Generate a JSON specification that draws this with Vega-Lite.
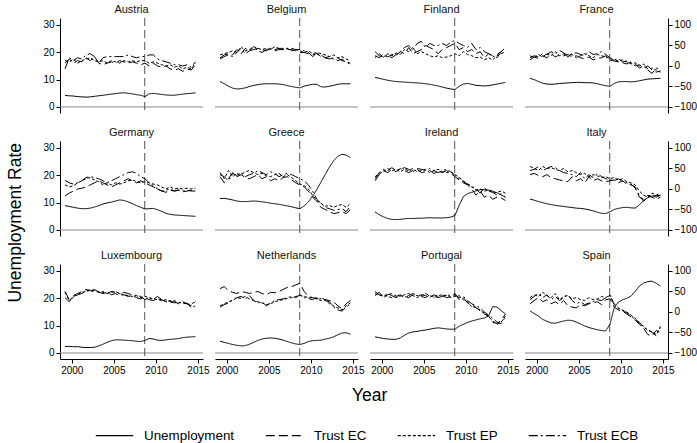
{
"$schema": "https://vega.github.io/schema/vega-lite/v6.json",
"padding": {"top": 3, "left": 7, "right": 3, "bottom": 1},
"background": "white",
"title": {"text": "Unemployment Rate", "orient": "left", "anchor": "middle", "fontSize": 17.5, "fontWeight": "normal", "font": "Liberation Sans", "color": "black", "offset": 18},
"data": {"values": [
{"c":"Austria","t":1999.2,"u":4.2,"ec":7,"ep":13,"ecb":-7},
{"c":"Austria","t":1999.7,"u":4.1,"ec":17,"ep":10,"ecb":20},
{"c":"Austria","t":2000.2,"u":4.0,"ec":7,"ep":17,"ecb":13},
{"c":"Austria","t":2000.7,"u":3.8,"ec":13,"ep":7,"ecb":20},
{"c":"Austria","t":2001.2,"u":3.7,"ec":10,"ep":13,"ecb":17},
{"c":"Austria","t":2001.7,"u":3.6,"ec":20,"ep":17,"ecb":27},
{"c":"Austria","t":2002.2,"u":3.7,"ec":13,"ep":20,"ecb":30},
{"c":"Austria","t":2002.7,"u":3.9,"ec":23,"ep":13,"ecb":23},
{"c":"Austria","t":2003.2,"u":4.1,"ec":7,"ep":10,"ecb":7},
{"c":"Austria","t":2003.7,"u":4.3,"ec":3,"ep":13,"ecb":20},
{"c":"Austria","t":2004.2,"u":4.5,"ec":7,"ep":7,"ecb":23},
{"c":"Austria","t":2004.7,"u":4.7,"ec":10,"ep":13,"ecb":23},
{"c":"Austria","t":2005.2,"u":4.9,"ec":7,"ep":10,"ecb":23},
{"c":"Austria","t":2005.7,"u":5.1,"ec":13,"ep":7,"ecb":23},
{"c":"Austria","t":2006.2,"u":5.2,"ec":10,"ep":13,"ecb":23},
{"c":"Austria","t":2006.7,"u":5.0,"ec":7,"ep":10,"ecb":27},
{"c":"Austria","t":2007.2,"u":4.8,"ec":10,"ep":13,"ecb":23},
{"c":"Austria","t":2007.7,"u":4.5,"ec":7,"ep":10,"ecb":20},
{"c":"Austria","t":2008.2,"u":4.3,"ec":3,"ep":13,"ecb":23},
{"c":"Austria","t":2008.7,"u":3.8,"ec":7,"ep":13,"ecb":23},
{"c":"Austria","t":2009.2,"u":4.8,"ec":0,"ep":7,"ecb":27},
{"c":"Austria","t":2009.7,"u":5.0,"ec":7,"ep":10,"ecb":27},
{"c":"Austria","t":2010.2,"u":4.8,"ec":0,"ep":7,"ecb":17},
{"c":"Austria","t":2010.7,"u":4.6,"ec":-3,"ep":3,"ecb":13},
{"c":"Austria","t":2011.2,"u":4.4,"ec":0,"ep":0,"ecb":10},
{"c":"Austria","t":2011.7,"u":4.3,"ec":-7,"ep":3,"ecb":7},
{"c":"Austria","t":2012.2,"u":4.3,"ec":-10,"ep":-3,"ecb":3},
{"c":"Austria","t":2012.7,"u":4.5,"ec":-7,"ep":0,"ecb":3},
{"c":"Austria","t":2013.2,"u":4.7,"ec":-13,"ep":-7,"ecb":0},
{"c":"Austria","t":2013.7,"u":4.9,"ec":-7,"ep":-3,"ecb":3},
{"c":"Austria","t":2014.2,"u":5.0,"ec":-10,"ep":-7,"ecb":-3},
{"c":"Austria","t":2014.7,"u":5.2,"ec":3,"ep":7,"ecb":10},
{"c":"Belgium","t":1999.2,"u":9.3,"ec":20,"ep":27,"ecb":17},
{"c":"Belgium","t":1999.7,"u":8.5,"ec":27,"ep":30,"ecb":23},
{"c":"Belgium","t":2000.2,"u":7.6,"ec":30,"ep":33,"ecb":27},
{"c":"Belgium","t":2000.7,"u":6.9,"ec":27,"ep":37,"ecb":23},
{"c":"Belgium","t":2001.2,"u":6.6,"ec":40,"ep":33,"ecb":33},
{"c":"Belgium","t":2001.7,"u":6.7,"ec":30,"ep":47,"ecb":43},
{"c":"Belgium","t":2002.2,"u":7.0,"ec":43,"ep":37,"ecb":30},
{"c":"Belgium","t":2002.7,"u":7.5,"ec":37,"ep":40,"ecb":37},
{"c":"Belgium","t":2003.2,"u":7.9,"ec":40,"ep":47,"ecb":47},
{"c":"Belgium","t":2003.7,"u":8.2,"ec":43,"ep":43,"ecb":37},
{"c":"Belgium","t":2004.2,"u":8.4,"ec":40,"ep":40,"ecb":33},
{"c":"Belgium","t":2004.7,"u":8.5,"ec":37,"ep":43,"ecb":40},
{"c":"Belgium","t":2005.2,"u":8.5,"ec":43,"ep":40,"ecb":43},
{"c":"Belgium","t":2005.7,"u":8.5,"ec":40,"ep":47,"ecb":37},
{"c":"Belgium","t":2006.2,"u":8.4,"ec":43,"ep":43,"ecb":40},
{"c":"Belgium","t":2006.7,"u":8.2,"ec":43,"ep":40,"ecb":40},
{"c":"Belgium","t":2007.2,"u":7.8,"ec":40,"ep":43,"ecb":43},
{"c":"Belgium","t":2007.7,"u":7.5,"ec":40,"ep":37,"ecb":43},
{"c":"Belgium","t":2008.2,"u":7.2,"ec":37,"ep":40,"ecb":40},
{"c":"Belgium","t":2008.7,"u":7.0,"ec":33,"ep":37,"ecb":40},
{"c":"Belgium","t":2009.2,"u":7.6,"ec":33,"ep":33,"ecb":37},
{"c":"Belgium","t":2009.7,"u":8.0,"ec":30,"ep":37,"ecb":33},
{"c":"Belgium","t":2010.2,"u":8.3,"ec":27,"ep":30,"ecb":23},
{"c":"Belgium","t":2010.7,"u":8.3,"ec":30,"ep":33,"ecb":30},
{"c":"Belgium","t":2011.2,"u":7.4,"ec":23,"ep":30,"ecb":27},
{"c":"Belgium","t":2011.7,"u":7.3,"ec":20,"ep":27,"ecb":20},
{"c":"Belgium","t":2012.2,"u":7.6,"ec":17,"ep":23,"ecb":23},
{"c":"Belgium","t":2012.7,"u":7.9,"ec":20,"ep":27,"ecb":17},
{"c":"Belgium","t":2013.2,"u":8.3,"ec":13,"ep":20,"ecb":20},
{"c":"Belgium","t":2013.7,"u":8.5,"ec":17,"ep":23,"ecb":13},
{"c":"Belgium","t":2014.2,"u":8.5,"ec":10,"ep":17,"ecb":10},
{"c":"Belgium","t":2014.7,"u":8.5,"ec":7,"ep":13,"ecb":3},
{"c":"Finland","t":1999.2,"u":10.8,"ec":25,"ep":20,"ecb":35},
{"c":"Finland","t":1999.7,"u":10.5,"ec":20,"ep":30,"ecb":25},
{"c":"Finland","t":2000.2,"u":10.1,"ec":30,"ep":22,"ecb":22},
{"c":"Finland","t":2000.7,"u":9.8,"ec":22,"ep":30,"ecb":25},
{"c":"Finland","t":2001.2,"u":9.5,"ec":28,"ep":25,"ecb":20},
{"c":"Finland","t":2001.7,"u":9.3,"ec":25,"ep":32,"ecb":28},
{"c":"Finland","t":2002.2,"u":9.2,"ec":35,"ep":28,"ecb":35},
{"c":"Finland","t":2002.7,"u":9.1,"ec":30,"ep":40,"ecb":45},
{"c":"Finland","t":2003.2,"u":9.0,"ec":45,"ep":35,"ecb":50},
{"c":"Finland","t":2003.7,"u":8.9,"ec":30,"ep":45,"ecb":40},
{"c":"Finland","t":2004.2,"u":8.8,"ec":35,"ep":30,"ecb":55},
{"c":"Finland","t":2004.7,"u":8.7,"ec":40,"ep":35,"ecb":60},
{"c":"Finland","t":2005.2,"u":8.5,"ec":50,"ep":30,"ecb":45},
{"c":"Finland","t":2005.7,"u":8.3,"ec":45,"ep":25,"ecb":55},
{"c":"Finland","t":2006.2,"u":8.0,"ec":40,"ep":22,"ecb":50},
{"c":"Finland","t":2006.7,"u":7.7,"ec":30,"ep":25,"ecb":50},
{"c":"Finland","t":2007.2,"u":7.3,"ec":40,"ep":20,"ecb":55},
{"c":"Finland","t":2007.7,"u":6.9,"ec":45,"ep":22,"ecb":50},
{"c":"Finland","t":2008.2,"u":6.6,"ec":50,"ep":25,"ecb":58},
{"c":"Finland","t":2008.7,"u":6.4,"ec":55,"ep":30,"ecb":62},
{"c":"Finland","t":2009.2,"u":7.6,"ec":40,"ep":25,"ecb":55},
{"c":"Finland","t":2009.7,"u":8.4,"ec":45,"ep":35,"ecb":50},
{"c":"Finland","t":2010.2,"u":8.6,"ec":35,"ep":28,"ecb":45},
{"c":"Finland","t":2010.7,"u":8.3,"ec":40,"ep":25,"ecb":55},
{"c":"Finland","t":2011.2,"u":7.9,"ec":30,"ep":20,"ecb":40},
{"c":"Finland","t":2011.7,"u":7.8,"ec":35,"ep":22,"ecb":45},
{"c":"Finland","t":2012.2,"u":7.7,"ec":20,"ep":15,"ecb":35},
{"c":"Finland","t":2012.7,"u":7.8,"ec":30,"ep":20,"ecb":30},
{"c":"Finland","t":2013.2,"u":8.1,"ec":25,"ep":15,"ecb":22},
{"c":"Finland","t":2013.7,"u":8.4,"ec":20,"ep":25,"ecb":28},
{"c":"Finland","t":2014.2,"u":8.7,"ec":35,"ep":30,"ecb":35},
{"c":"Finland","t":2014.7,"u":9.0,"ec":40,"ep":35,"ecb":45},
{"c":"France","t":1999.2,"u":10.5,"ec":15,"ep":25,"ecb":20},
{"c":"France","t":1999.7,"u":10.0,"ec":22,"ep":20,"ecb":25},
{"c":"France","t":2000.2,"u":9.3,"ec":18,"ep":28,"ecb":22},
{"c":"France","t":2000.7,"u":8.7,"ec":25,"ep":22,"ecb":30},
{"c":"France","t":2001.2,"u":8.4,"ec":20,"ep":30,"ecb":28},
{"c":"France","t":2001.7,"u":8.3,"ec":30,"ep":25,"ecb":35},
{"c":"France","t":2002.2,"u":8.4,"ec":22,"ep":35,"ecb":30},
{"c":"France","t":2002.7,"u":8.6,"ec":27,"ep":25,"ecb":38},
{"c":"France","t":2003.2,"u":8.7,"ec":25,"ep":30,"ecb":32},
{"c":"France","t":2003.7,"u":8.8,"ec":28,"ep":22,"ecb":25},
{"c":"France","t":2004.2,"u":8.9,"ec":22,"ep":28,"ecb":30},
{"c":"France","t":2004.7,"u":9.0,"ec":25,"ep":20,"ecb":32},
{"c":"France","t":2005.2,"u":9.0,"ec":20,"ep":25,"ecb":28},
{"c":"France","t":2005.7,"u":8.9,"ec":18,"ep":30,"ecb":25},
{"c":"France","t":2006.2,"u":8.9,"ec":22,"ep":25,"ecb":35},
{"c":"France","t":2006.7,"u":8.8,"ec":15,"ep":20,"ecb":28},
{"c":"France","t":2007.2,"u":8.5,"ec":18,"ep":28,"ecb":30},
{"c":"France","t":2007.7,"u":8.1,"ec":20,"ep":25,"ecb":35},
{"c":"France","t":2008.2,"u":7.8,"ec":25,"ep":22,"ecb":28},
{"c":"France","t":2008.7,"u":7.5,"ec":15,"ep":18,"ecb":20},
{"c":"France","t":2009.2,"u":8.6,"ec":12,"ep":15,"ecb":15},
{"c":"France","t":2009.7,"u":9.2,"ec":10,"ep":12,"ecb":18},
{"c":"France","t":2010.2,"u":9.3,"ec":8,"ep":15,"ecb":10},
{"c":"France","t":2010.7,"u":9.3,"ec":5,"ep":10,"ecb":12},
{"c":"France","t":2011.2,"u":9.2,"ec":10,"ep":5,"ecb":8},
{"c":"France","t":2011.7,"u":9.3,"ec":0,"ep":8,"ecb":5},
{"c":"France","t":2012.2,"u":9.6,"ec":3,"ep":0,"ecb":-5},
{"c":"France","t":2012.7,"u":9.9,"ec":-5,"ep":5,"ecb":0},
{"c":"France","t":2013.2,"u":10.2,"ec":0,"ep":-8,"ecb":-10},
{"c":"France","t":2013.7,"u":10.3,"ec":-10,"ep":-5,"ecb":-18},
{"c":"France","t":2014.2,"u":10.4,"ec":-15,"ep":-10,"ecb":-5},
{"c":"France","t":2014.7,"u":10.5,"ec":-12,"ep":-15,"ecb":-8},
{"c":"Germany","t":1999.2,"u":8.9,"ec":-17,"ep":10,"ecb":21},
{"c":"Germany","t":1999.7,"u":8.6,"ec":-10,"ep":5,"ecb":15},
{"c":"Germany","t":2000.2,"u":8.3,"ec":-5,"ep":8,"ecb":12},
{"c":"Germany","t":2000.7,"u":8.0,"ec":0,"ep":15,"ecb":15},
{"c":"Germany","t":2001.2,"u":7.8,"ec":2,"ep":20,"ecb":20},
{"c":"Germany","t":2001.7,"u":7.8,"ec":5,"ep":25,"ecb":28},
{"c":"Germany","t":2002.2,"u":8.0,"ec":10,"ep":28,"ecb":30},
{"c":"Germany","t":2002.7,"u":8.4,"ec":15,"ep":22,"ecb":28},
{"c":"Germany","t":2003.2,"u":8.9,"ec":20,"ep":18,"ecb":25},
{"c":"Germany","t":2003.7,"u":9.5,"ec":15,"ep":10,"ecb":20},
{"c":"Germany","t":2004.2,"u":9.9,"ec":10,"ep":15,"ecb":15},
{"c":"Germany","t":2004.7,"u":10.2,"ec":5,"ep":10,"ecb":20},
{"c":"Germany","t":2005.2,"u":10.6,"ec":10,"ep":15,"ecb":25},
{"c":"Germany","t":2005.7,"u":11.0,"ec":15,"ep":12,"ecb":30},
{"c":"Germany","t":2006.2,"u":10.8,"ec":20,"ep":15,"ecb":35},
{"c":"Germany","t":2006.7,"u":10.3,"ec":25,"ep":20,"ecb":40},
{"c":"Germany","t":2007.2,"u":9.6,"ec":20,"ep":22,"ecb":42},
{"c":"Germany","t":2007.7,"u":8.9,"ec":15,"ep":18,"ecb":38},
{"c":"Germany","t":2008.2,"u":8.3,"ec":20,"ep":15,"ecb":30},
{"c":"Germany","t":2008.7,"u":7.7,"ec":15,"ep":18,"ecb":25},
{"c":"Germany","t":2009.2,"u":7.8,"ec":10,"ep":15,"ecb":15},
{"c":"Germany","t":2009.7,"u":7.9,"ec":5,"ep":12,"ecb":8},
{"c":"Germany","t":2010.2,"u":7.4,"ec":0,"ep":10,"ecb":0},
{"c":"Germany","t":2010.7,"u":6.8,"ec":-5,"ep":5,"ecb":-5},
{"c":"Germany","t":2011.2,"u":6.1,"ec":-8,"ep":0,"ecb":-3},
{"c":"Germany","t":2011.7,"u":5.7,"ec":-3,"ep":5,"ecb":0},
{"c":"Germany","t":2012.2,"u":5.5,"ec":-5,"ep":0,"ecb":-5},
{"c":"Germany","t":2012.7,"u":5.4,"ec":-3,"ep":2,"ecb":-2},
{"c":"Germany","t":2013.2,"u":5.3,"ec":-7,"ep":0,"ecb":-5},
{"c":"Germany","t":2013.7,"u":5.2,"ec":-5,"ep":2,"ecb":-3},
{"c":"Germany","t":2014.2,"u":5.1,"ec":-3,"ep":0,"ecb":-5},
{"c":"Germany","t":2014.7,"u":5.0,"ec":-8,"ep":2,"ecb":-5},
{"c":"Greece","t":1999.2,"u":11.5,"ec":30,"ep":40,"ecb":35},
{"c":"Greece","t":1999.7,"u":11.6,"ec":15,"ep":25,"ecb":30},
{"c":"Greece","t":2000.2,"u":11.3,"ec":25,"ep":45,"ecb":20},
{"c":"Greece","t":2000.7,"u":11.0,"ec":40,"ep":30,"ecb":38},
{"c":"Greece","t":2001.2,"u":10.6,"ec":30,"ep":38,"ecb":33},
{"c":"Greece","t":2001.7,"u":10.4,"ec":35,"ep":35,"ecb":40},
{"c":"Greece","t":2002.2,"u":10.4,"ec":28,"ep":42,"ecb":30},
{"c":"Greece","t":2002.7,"u":10.5,"ec":25,"ep":45,"ecb":35},
{"c":"Greece","t":2003.2,"u":10.6,"ec":30,"ep":40,"ecb":38},
{"c":"Greece","t":2003.7,"u":10.5,"ec":35,"ep":35,"ecb":45},
{"c":"Greece","t":2004.2,"u":10.3,"ec":25,"ep":38,"ecb":40},
{"c":"Greece","t":2004.7,"u":10.1,"ec":30,"ep":32,"ecb":35},
{"c":"Greece","t":2005.2,"u":9.8,"ec":20,"ep":30,"ecb":42},
{"c":"Greece","t":2005.7,"u":9.6,"ec":25,"ep":35,"ecb":38},
{"c":"Greece","t":2006.2,"u":9.4,"ec":20,"ep":38,"ecb":30},
{"c":"Greece","t":2006.7,"u":9.1,"ec":28,"ep":30,"ecb":35},
{"c":"Greece","t":2007.2,"u":8.8,"ec":30,"ep":35,"ecb":38},
{"c":"Greece","t":2007.7,"u":8.5,"ec":22,"ep":28,"ecb":35},
{"c":"Greece","t":2008.2,"u":8.1,"ec":15,"ep":20,"ecb":30},
{"c":"Greece","t":2008.7,"u":7.8,"ec":10,"ep":12,"ecb":25},
{"c":"Greece","t":2009.2,"u":8.8,"ec":5,"ep":8,"ecb":20},
{"c":"Greece","t":2009.7,"u":10.3,"ec":-5,"ep":0,"ecb":10},
{"c":"Greece","t":2010.2,"u":12.3,"ec":-20,"ep":-15,"ecb":-5},
{"c":"Greece","t":2010.7,"u":14.8,"ec":-30,"ep":-28,"ecb":-25},
{"c":"Greece","t":2011.2,"u":17.5,"ec":-45,"ep":-35,"ecb":-35},
{"c":"Greece","t":2011.7,"u":20.3,"ec":-50,"ep":-42,"ecb":-45},
{"c":"Greece","t":2012.2,"u":23.0,"ec":-55,"ep":-40,"ecb":-48},
{"c":"Greece","t":2012.7,"u":25.3,"ec":-60,"ep":-45,"ecb":-52},
{"c":"Greece","t":2013.2,"u":27.0,"ec":-58,"ep":-40,"ecb":-50},
{"c":"Greece","t":2013.7,"u":27.7,"ec":-55,"ep":-38,"ecb":-48},
{"c":"Greece","t":2014.2,"u":27.4,"ec":-60,"ep":-45,"ecb":-55},
{"c":"Greece","t":2014.7,"u":26.5,"ec":-50,"ep":-35,"ecb":-42},
{"c":"Ireland","t":1999.2,"u":6.6,"ec":20,"ep":30,"ecb":25},
{"c":"Ireland","t":1999.7,"u":5.6,"ec":35,"ep":38,"ecb":40},
{"c":"Ireland","t":2000.2,"u":4.8,"ec":45,"ep":42,"ecb":48},
{"c":"Ireland","t":2000.7,"u":4.2,"ec":40,"ep":50,"ecb":45},
{"c":"Ireland","t":2001.2,"u":3.9,"ec":48,"ep":45,"ecb":52},
{"c":"Ireland","t":2001.7,"u":3.8,"ec":42,"ep":48,"ecb":45},
{"c":"Ireland","t":2002.2,"u":3.9,"ec":50,"ep":42,"ecb":48},
{"c":"Ireland","t":2002.7,"u":4.1,"ec":45,"ep":48,"ecb":52},
{"c":"Ireland","t":2003.2,"u":4.2,"ec":40,"ep":45,"ecb":48},
{"c":"Ireland","t":2003.7,"u":4.2,"ec":45,"ep":50,"ecb":42},
{"c":"Ireland","t":2004.2,"u":4.3,"ec":48,"ep":42,"ecb":50},
{"c":"Ireland","t":2004.7,"u":4.3,"ec":40,"ep":45,"ecb":48},
{"c":"Ireland","t":2005.2,"u":4.4,"ec":42,"ep":48,"ecb":45},
{"c":"Ireland","t":2005.7,"u":4.5,"ec":45,"ep":40,"ecb":50},
{"c":"Ireland","t":2006.2,"u":4.4,"ec":38,"ep":45,"ecb":45},
{"c":"Ireland","t":2006.7,"u":4.4,"ec":42,"ep":48,"ecb":40},
{"c":"Ireland","t":2007.2,"u":4.4,"ec":40,"ep":42,"ecb":45},
{"c":"Ireland","t":2007.7,"u":4.5,"ec":45,"ep":40,"ecb":48},
{"c":"Ireland","t":2008.2,"u":4.7,"ec":38,"ep":42,"ecb":42},
{"c":"Ireland","t":2008.7,"u":5.3,"ec":30,"ep":35,"ecb":33},
{"c":"Ireland","t":2009.2,"u":9.0,"ec":22,"ep":28,"ecb":25},
{"c":"Ireland","t":2009.7,"u":12.2,"ec":15,"ep":20,"ecb":18},
{"c":"Ireland","t":2010.2,"u":13.3,"ec":10,"ep":12,"ecb":12},
{"c":"Ireland","t":2010.7,"u":13.8,"ec":0,"ep":5,"ecb":8},
{"c":"Ireland","t":2011.2,"u":14.3,"ec":-15,"ep":-2,"ecb":0},
{"c":"Ireland","t":2011.7,"u":14.7,"ec":-5,"ep":0,"ecb":-10},
{"c":"Ireland","t":2012.2,"u":14.8,"ec":-20,"ep":-5,"ecb":2},
{"c":"Ireland","t":2012.7,"u":14.6,"ec":-15,"ep":-3,"ecb":-5},
{"c":"Ireland","t":2013.2,"u":14.2,"ec":-25,"ep":-10,"ecb":-8},
{"c":"Ireland","t":2013.7,"u":13.6,"ec":-20,"ep":-8,"ecb":-15},
{"c":"Ireland","t":2014.2,"u":12.8,"ec":-22,"ep":-5,"ecb":-12},
{"c":"Ireland","t":2014.7,"u":12.0,"ec":-28,"ep":-10,"ecb":-20},
{"c":"Italy","t":1999.2,"u":11.3,"ec":35,"ep":55,"ecb":45},
{"c":"Italy","t":1999.7,"u":10.9,"ec":38,"ep":50,"ecb":48},
{"c":"Italy","t":2000.2,"u":10.4,"ec":33,"ep":45,"ecb":55},
{"c":"Italy","t":2000.7,"u":10.0,"ec":30,"ep":55,"ecb":45},
{"c":"Italy","t":2001.2,"u":9.6,"ec":35,"ep":50,"ecb":50},
{"c":"Italy","t":2001.7,"u":9.3,"ec":28,"ep":52,"ecb":55},
{"c":"Italy","t":2002.2,"u":9.0,"ec":25,"ep":48,"ecb":52},
{"c":"Italy","t":2002.7,"u":8.8,"ec":22,"ep":45,"ecb":45},
{"c":"Italy","t":2003.2,"u":8.6,"ec":20,"ep":50,"ecb":40},
{"c":"Italy","t":2003.7,"u":8.4,"ec":18,"ep":42,"ecb":38},
{"c":"Italy","t":2004.2,"u":8.2,"ec":30,"ep":45,"ecb":35},
{"c":"Italy","t":2004.7,"u":8.0,"ec":20,"ep":40,"ecb":30},
{"c":"Italy","t":2005.2,"u":7.9,"ec":25,"ep":35,"ecb":40},
{"c":"Italy","t":2005.7,"u":7.7,"ec":15,"ep":38,"ecb":25},
{"c":"Italy","t":2006.2,"u":7.4,"ec":30,"ep":30,"ecb":35},
{"c":"Italy","t":2006.7,"u":7.0,"ec":20,"ep":35,"ecb":28},
{"c":"Italy","t":2007.2,"u":6.5,"ec":25,"ep":32,"ecb":38},
{"c":"Italy","t":2007.7,"u":6.1,"ec":20,"ep":28,"ecb":30},
{"c":"Italy","t":2008.2,"u":6.0,"ec":18,"ep":30,"ecb":25},
{"c":"Italy","t":2008.7,"u":6.7,"ec":20,"ep":25,"ecb":22},
{"c":"Italy","t":2009.2,"u":7.5,"ec":22,"ep":28,"ecb":20},
{"c":"Italy","t":2009.7,"u":7.9,"ec":15,"ep":22,"ecb":25},
{"c":"Italy","t":2010.2,"u":8.2,"ec":20,"ep":25,"ecb":18},
{"c":"Italy","t":2010.7,"u":8.3,"ec":12,"ep":18,"ecb":15},
{"c":"Italy","t":2011.2,"u":8.1,"ec":10,"ep":15,"ecb":12},
{"c":"Italy","t":2011.7,"u":8.0,"ec":5,"ep":10,"ecb":2},
{"c":"Italy","t":2012.2,"u":9.2,"ec":-20,"ep":-5,"ecb":-15},
{"c":"Italy","t":2012.7,"u":10.8,"ec":-25,"ep":-15,"ecb":-30},
{"c":"Italy","t":2013.2,"u":11.8,"ec":-15,"ep":-20,"ecb":-20},
{"c":"Italy","t":2013.7,"u":12.4,"ec":-20,"ep":-10,"ecb":-15},
{"c":"Italy","t":2014.2,"u":12.6,"ec":-25,"ep":-15,"ecb":-20},
{"c":"Italy","t":2014.7,"u":12.7,"ec":-20,"ep":-10,"ecb":-15},
{"c":"Luxembourg","t":1999.2,"u":2.4,"ec":35,"ep":48,"ecb":50},
{"c":"Luxembourg","t":1999.7,"u":2.4,"ec":25,"ep":28,"ecb":30},
{"c":"Luxembourg","t":2000.2,"u":2.3,"ec":40,"ep":38,"ecb":35},
{"c":"Luxembourg","t":2000.7,"u":2.3,"ec":45,"ep":42,"ecb":42},
{"c":"Luxembourg","t":2001.2,"u":2.1,"ec":50,"ep":48,"ecb":45},
{"c":"Luxembourg","t":2001.7,"u":2.0,"ec":55,"ep":50,"ecb":52},
{"c":"Luxembourg","t":2002.2,"u":2.0,"ec":52,"ep":55,"ecb":50},
{"c":"Luxembourg","t":2002.7,"u":2.1,"ec":50,"ep":52,"ecb":55},
{"c":"Luxembourg","t":2003.2,"u":2.6,"ec":48,"ep":50,"ecb":48},
{"c":"Luxembourg","t":2003.7,"u":3.2,"ec":45,"ep":48,"ecb":50},
{"c":"Luxembourg","t":2004.2,"u":3.9,"ec":48,"ep":45,"ecb":45},
{"c":"Luxembourg","t":2004.7,"u":4.5,"ec":42,"ep":48,"ecb":50},
{"c":"Luxembourg","t":2005.2,"u":4.8,"ec":45,"ep":50,"ecb":48},
{"c":"Luxembourg","t":2005.7,"u":4.8,"ec":40,"ep":45,"ecb":45},
{"c":"Luxembourg","t":2006.2,"u":4.7,"ec":42,"ep":42,"ecb":48},
{"c":"Luxembourg","t":2006.7,"u":4.6,"ec":38,"ep":40,"ecb":45},
{"c":"Luxembourg","t":2007.2,"u":4.5,"ec":40,"ep":38,"ecb":42},
{"c":"Luxembourg","t":2007.7,"u":4.3,"ec":35,"ep":40,"ecb":40},
{"c":"Luxembourg","t":2008.2,"u":4.2,"ec":32,"ep":35,"ecb":38},
{"c":"Luxembourg","t":2008.7,"u":4.6,"ec":35,"ep":38,"ecb":30},
{"c":"Luxembourg","t":2009.2,"u":5.3,"ec":30,"ep":35,"ecb":35},
{"c":"Luxembourg","t":2009.7,"u":5.1,"ec":28,"ep":32,"ecb":30},
{"c":"Luxembourg","t":2010.2,"u":4.7,"ec":32,"ep":30,"ecb":38},
{"c":"Luxembourg","t":2010.7,"u":4.6,"ec":30,"ep":28,"ecb":30},
{"c":"Luxembourg","t":2011.2,"u":4.8,"ec":25,"ep":30,"ecb":25},
{"c":"Luxembourg","t":2011.7,"u":5.0,"ec":22,"ep":25,"ecb":28},
{"c":"Luxembourg","t":2012.2,"u":5.1,"ec":25,"ep":28,"ecb":22},
{"c":"Luxembourg","t":2012.7,"u":5.3,"ec":20,"ep":22,"ecb":25},
{"c":"Luxembourg","t":2013.2,"u":5.6,"ec":22,"ep":25,"ecb":20},
{"c":"Luxembourg","t":2013.7,"u":5.8,"ec":20,"ep":20,"ecb":22},
{"c":"Luxembourg","t":2014.2,"u":5.9,"ec":15,"ep":18,"ecb":10},
{"c":"Luxembourg","t":2014.7,"u":6.0,"ec":25,"ep":28,"ecb":15},
{"c":"Netherlands","t":1999.2,"u":4.3,"ec":57,"ep":15,"ecb":12},
{"c":"Netherlands","t":1999.7,"u":3.9,"ec":62,"ep":20,"ecb":18},
{"c":"Netherlands","t":2000.2,"u":3.5,"ec":52,"ep":25,"ecb":22},
{"c":"Netherlands","t":2000.7,"u":3.1,"ec":48,"ep":28,"ecb":30},
{"c":"Netherlands","t":2001.2,"u":2.8,"ec":45,"ep":35,"ecb":35},
{"c":"Netherlands","t":2001.7,"u":2.6,"ec":50,"ep":33,"ecb":38},
{"c":"Netherlands","t":2002.2,"u":2.7,"ec":48,"ep":38,"ecb":32},
{"c":"Netherlands","t":2002.7,"u":3.2,"ec":45,"ep":32,"ecb":40},
{"c":"Netherlands","t":2003.2,"u":3.9,"ec":48,"ep":28,"ecb":28},
{"c":"Netherlands","t":2003.7,"u":4.6,"ec":50,"ep":25,"ecb":22},
{"c":"Netherlands","t":2004.2,"u":5.1,"ec":45,"ep":22,"ecb":25},
{"c":"Netherlands","t":2004.7,"u":5.4,"ec":42,"ep":18,"ecb":15},
{"c":"Netherlands","t":2005.2,"u":5.5,"ec":48,"ep":20,"ecb":22},
{"c":"Netherlands","t":2005.7,"u":5.4,"ec":47,"ep":25,"ecb":28},
{"c":"Netherlands","t":2006.2,"u":5.1,"ec":50,"ep":28,"ecb":30},
{"c":"Netherlands","t":2006.7,"u":4.7,"ec":55,"ep":30,"ecb":32},
{"c":"Netherlands","t":2007.2,"u":4.2,"ec":60,"ep":33,"ecb":35},
{"c":"Netherlands","t":2007.7,"u":3.7,"ec":62,"ep":35,"ecb":38},
{"c":"Netherlands","t":2008.2,"u":3.3,"ec":66,"ep":38,"ecb":35},
{"c":"Netherlands","t":2008.7,"u":3.1,"ec":70,"ep":40,"ecb":42},
{"c":"Netherlands","t":2009.2,"u":3.5,"ec":50,"ep":38,"ecb":35},
{"c":"Netherlands","t":2009.7,"u":4.2,"ec":38,"ep":35,"ecb":33},
{"c":"Netherlands","t":2010.2,"u":4.5,"ec":35,"ep":35,"ecb":30},
{"c":"Netherlands","t":2010.7,"u":4.6,"ec":32,"ep":32,"ecb":36},
{"c":"Netherlands","t":2011.2,"u":4.7,"ec":35,"ep":28,"ecb":32},
{"c":"Netherlands","t":2011.7,"u":5.1,"ec":30,"ep":30,"ecb":28},
{"c":"Netherlands","t":2012.2,"u":5.4,"ec":28,"ep":20,"ecb":25},
{"c":"Netherlands","t":2012.7,"u":5.9,"ec":25,"ep":15,"ecb":12},
{"c":"Netherlands","t":2013.2,"u":6.7,"ec":15,"ep":10,"ecb":5},
{"c":"Netherlands","t":2013.7,"u":7.3,"ec":8,"ep":5,"ecb":2},
{"c":"Netherlands","t":2014.2,"u":7.4,"ec":20,"ep":15,"ecb":12},
{"c":"Netherlands","t":2014.7,"u":6.9,"ec":28,"ep":22,"ecb":20},
{"c":"Portugal","t":1999.2,"u":5.9,"ec":40,"ep":45,"ecb":50},
{"c":"Portugal","t":1999.7,"u":5.6,"ec":48,"ep":40,"ecb":42},
{"c":"Portugal","t":2000.2,"u":5.3,"ec":35,"ep":42,"ecb":38},
{"c":"Portugal","t":2000.7,"u":5.1,"ec":42,"ep":38,"ecb":45},
{"c":"Portugal","t":2001.2,"u":5.0,"ec":45,"ep":35,"ecb":40},
{"c":"Portugal","t":2001.7,"u":5.0,"ec":38,"ep":42,"ecb":35},
{"c":"Portugal","t":2002.2,"u":5.5,"ec":42,"ep":38,"ecb":40},
{"c":"Portugal","t":2002.7,"u":6.5,"ec":35,"ep":42,"ecb":38},
{"c":"Portugal","t":2003.2,"u":7.3,"ec":40,"ep":45,"ecb":35},
{"c":"Portugal","t":2003.7,"u":7.7,"ec":45,"ep":40,"ecb":42},
{"c":"Portugal","t":2004.2,"u":7.9,"ec":38,"ep":35,"ecb":40},
{"c":"Portugal","t":2004.7,"u":8.2,"ec":42,"ep":40,"ecb":38},
{"c":"Portugal","t":2005.2,"u":8.4,"ec":40,"ep":45,"ecb":35},
{"c":"Portugal","t":2005.7,"u":8.7,"ec":35,"ep":40,"ecb":42},
{"c":"Portugal","t":2006.2,"u":9.0,"ec":42,"ep":35,"ecb":38},
{"c":"Portugal","t":2006.7,"u":9.2,"ec":38,"ep":40,"ecb":35},
{"c":"Portugal","t":2007.2,"u":9.0,"ec":40,"ep":42,"ecb":38},
{"c":"Portugal","t":2007.7,"u":8.8,"ec":35,"ep":40,"ecb":42},
{"c":"Portugal","t":2008.2,"u":8.7,"ec":38,"ep":35,"ecb":40},
{"c":"Portugal","t":2008.7,"u":8.7,"ec":45,"ep":38,"ecb":42},
{"c":"Portugal","t":2009.2,"u":9.8,"ec":30,"ep":40,"ecb":35},
{"c":"Portugal","t":2009.7,"u":10.5,"ec":35,"ep":30,"ecb":38},
{"c":"Portugal","t":2010.2,"u":11.2,"ec":22,"ep":25,"ecb":28},
{"c":"Portugal","t":2010.7,"u":11.7,"ec":18,"ep":12,"ecb":20},
{"c":"Portugal","t":2011.2,"u":12.1,"ec":10,"ep":12,"ecb":15},
{"c":"Portugal","t":2011.7,"u":12.5,"ec":5,"ep":2,"ecb":10},
{"c":"Portugal","t":2012.2,"u":12.8,"ec":-5,"ep":-2,"ecb":0},
{"c":"Portugal","t":2012.7,"u":13.6,"ec":-10,"ep":-12,"ecb":-8},
{"c":"Portugal","t":2013.2,"u":17.0,"ec":-25,"ep":-22,"ecb":-15},
{"c":"Portugal","t":2013.7,"u":16.8,"ec":-28,"ep":-30,"ecb":-25},
{"c":"Portugal","t":2014.2,"u":15.5,"ec":-20,"ep":-25,"ecb":-28},
{"c":"Portugal","t":2014.7,"u":14.3,"ec":-5,"ep":-10,"ecb":-12},
{"c":"Spain","t":1999.2,"u":15.4,"ec":20,"ep":35,"ecb":30},
{"c":"Spain","t":1999.7,"u":14.4,"ec":28,"ep":42,"ecb":38},
{"c":"Spain","t":2000.2,"u":13.5,"ec":35,"ep":38,"ecb":45},
{"c":"Spain","t":2000.7,"u":12.3,"ec":25,"ep":48,"ecb":35},
{"c":"Spain","t":2001.2,"u":11.6,"ec":30,"ep":40,"ecb":42},
{"c":"Spain","t":2001.7,"u":11.0,"ec":20,"ep":35,"ecb":30},
{"c":"Spain","t":2002.2,"u":10.9,"ec":25,"ep":45,"ecb":38},
{"c":"Spain","t":2002.7,"u":11.3,"ec":18,"ep":30,"ecb":28},
{"c":"Spain","t":2003.2,"u":11.7,"ec":28,"ep":38,"ecb":35},
{"c":"Spain","t":2003.7,"u":12.0,"ec":15,"ep":40,"ecb":42},
{"c":"Spain","t":2004.2,"u":11.9,"ec":12,"ep":32,"ecb":28},
{"c":"Spain","t":2004.7,"u":11.3,"ec":10,"ep":35,"ecb":20},
{"c":"Spain","t":2005.2,"u":10.6,"ec":18,"ep":30,"ecb":25},
{"c":"Spain","t":2005.7,"u":9.9,"ec":15,"ep":28,"ecb":18},
{"c":"Spain","t":2006.2,"u":9.3,"ec":20,"ep":35,"ecb":22},
{"c":"Spain","t":2006.7,"u":8.9,"ec":22,"ep":30,"ecb":25},
{"c":"Spain","t":2007.2,"u":8.5,"ec":25,"ep":32,"ecb":30},
{"c":"Spain","t":2007.7,"u":8.2,"ec":18,"ep":38,"ecb":28},
{"c":"Spain","t":2008.2,"u":8.1,"ec":30,"ep":35,"ecb":35},
{"c":"Spain","t":2008.7,"u":10.5,"ec":32,"ep":42,"ecb":40},
{"c":"Spain","t":2009.2,"u":16.5,"ec":12,"ep":20,"ecb":18},
{"c":"Spain","t":2009.7,"u":18.6,"ec":5,"ep":10,"ecb":8},
{"c":"Spain","t":2010.2,"u":19.5,"ec":2,"ep":5,"ecb":3},
{"c":"Spain","t":2010.7,"u":20.0,"ec":-5,"ep":0,"ecb":-2},
{"c":"Spain","t":2011.2,"u":20.8,"ec":-12,"ep":-8,"ecb":-10},
{"c":"Spain","t":2011.7,"u":22.5,"ec":-20,"ep":-15,"ecb":-18},
{"c":"Spain","t":2012.2,"u":24.5,"ec":-30,"ep":-28,"ecb":-25},
{"c":"Spain","t":2012.7,"u":25.6,"ec":-40,"ep":-35,"ecb":-38},
{"c":"Spain","t":2013.2,"u":26.1,"ec":-55,"ep":-45,"ecb":-42},
{"c":"Spain","t":2013.7,"u":26.3,"ec":-58,"ep":-48,"ecb":-50},
{"c":"Spain","t":2014.2,"u":25.5,"ec":-45,"ep":-55,"ecb":-58},
{"c":"Spain","t":2014.7,"u":24.5,"ec":-50,"ep":-38,"ecb":-35}
]},
"spacing": 12,
"vconcat": [
{"spacing": 12, "bounds": "flush", "hconcat": [
{"width":143,"height":95,"title":"Austria","transform":[{"filter":"datum.c == 'Austria'"}],"layer":[{"layer":[
 {"transform":[{"filter":"datum.t == 1999.2"}],"mark":{"type":"rule","color":"#8a8a8a","strokeWidth":1.2},"encoding":{"y":{"datum":0,"type":"quantitative","title":null,"scale":{"domain":[-2.2,32.56],"nice":false,"zero":false},"axis":{"orient":"left","values":[0,10,20,30],"format":"d"}}}},
 {"transform":[{"filter":"datum.t == 1999.2"}],"mark":{"type":"rule","color":"#555","strokeWidth":1,"strokeDash":[8,4]},"encoding":{"x":{"datum":2008.67,"type":"quantitative","title":null,"scale":{"domain":[1998.6,2015.6],"nice":false,"zero":false},"axis":null}}},
 {"transform":[{"fold":["u"],"as":["key","value"]}],"mark":{"type":"line","color":"black","strokeWidth":1},"encoding":{"x":{"field":"t","type":"quantitative","title":null,"scale":{"domain":[1998.6,2015.6],"nice":false,"zero":false},"axis":null},"y":{"field":"value","type":"quantitative","title":null,"scale":{"domain":[-2.2,32.56],"nice":false,"zero":false},"axis":{"orient":"left","values":[0,10,20,30],"format":"d"}},"strokeDash":{"field":"key","type":"nominal","scale":{"domain":["u","ec","ep","ecb"],"range":[[1,0],[9,4],[3,2],[9,3,2,3]]},"legend":{"labelExpr":"datum.label == 'u' ? 'Unemployment' : datum.label == 'ec' ? 'Trust EC' : datum.label == 'ep' ? 'Trust EP' : 'Trust ECB'"}}}}]},
 {"transform":[{"fold":["ec","ep","ecb"],"as":["key","value"]}],"mark":{"type":"line","color":"black","strokeWidth":1},"encoding":{"x":{"field":"t","type":"quantitative","title":null,"scale":{"domain":[1998.6,2015.6],"nice":false,"zero":false},"axis":null},"y":{"field":"value","type":"quantitative","title":null,"scale":{"domain":[-114.67,117.07],"nice":false,"zero":false},"axis":null},"strokeDash":{"field":"key","type":"nominal"}}}
],"resolve":{"scale":{"y":"independent"}}},
{"width":143,"height":95,"title":"Belgium","transform":[{"filter":"datum.c == 'Belgium'"}],"layer":[{"layer":[
 {"transform":[{"filter":"datum.t == 1999.2"}],"mark":{"type":"rule","color":"#8a8a8a","strokeWidth":1.2},"encoding":{"y":{"datum":0,"type":"quantitative","title":null,"scale":{"domain":[-2.2,32.56],"nice":false,"zero":false},"axis":null}}},
 {"transform":[{"filter":"datum.t == 1999.2"}],"mark":{"type":"rule","color":"#555","strokeWidth":1,"strokeDash":[8,4]},"encoding":{"x":{"datum":2008.67,"type":"quantitative","title":null,"scale":{"domain":[1998.6,2015.6],"nice":false,"zero":false},"axis":null}}},
 {"transform":[{"fold":["u"],"as":["key","value"]}],"mark":{"type":"line","color":"black","strokeWidth":1},"encoding":{"x":{"field":"t","type":"quantitative","title":null,"scale":{"domain":[1998.6,2015.6],"nice":false,"zero":false},"axis":null},"y":{"field":"value","type":"quantitative","title":null,"scale":{"domain":[-2.2,32.56],"nice":false,"zero":false},"axis":null},"strokeDash":{"field":"key","type":"nominal"}}}]},
 {"transform":[{"fold":["ec","ep","ecb"],"as":["key","value"]}],"mark":{"type":"line","color":"black","strokeWidth":1},"encoding":{"x":{"field":"t","type":"quantitative","title":null,"scale":{"domain":[1998.6,2015.6],"nice":false,"zero":false},"axis":null},"y":{"field":"value","type":"quantitative","title":null,"scale":{"domain":[-114.67,117.07],"nice":false,"zero":false},"axis":null},"strokeDash":{"field":"key","type":"nominal"}}}
],"resolve":{"scale":{"y":"independent"}}},
{"width":143,"height":95,"title":"Finland","transform":[{"filter":"datum.c == 'Finland'"}],"layer":[{"layer":[
 {"transform":[{"filter":"datum.t == 1999.2"}],"mark":{"type":"rule","color":"#8a8a8a","strokeWidth":1.2},"encoding":{"y":{"datum":0,"type":"quantitative","title":null,"scale":{"domain":[-2.2,32.56],"nice":false,"zero":false},"axis":null}}},
 {"transform":[{"filter":"datum.t == 1999.2"}],"mark":{"type":"rule","color":"#555","strokeWidth":1,"strokeDash":[8,4]},"encoding":{"x":{"datum":2008.67,"type":"quantitative","title":null,"scale":{"domain":[1998.6,2015.6],"nice":false,"zero":false},"axis":null}}},
 {"transform":[{"fold":["u"],"as":["key","value"]}],"mark":{"type":"line","color":"black","strokeWidth":1},"encoding":{"x":{"field":"t","type":"quantitative","title":null,"scale":{"domain":[1998.6,2015.6],"nice":false,"zero":false},"axis":null},"y":{"field":"value","type":"quantitative","title":null,"scale":{"domain":[-2.2,32.56],"nice":false,"zero":false},"axis":null},"strokeDash":{"field":"key","type":"nominal"}}}]},
 {"transform":[{"fold":["ec","ep","ecb"],"as":["key","value"]}],"mark":{"type":"line","color":"black","strokeWidth":1},"encoding":{"x":{"field":"t","type":"quantitative","title":null,"scale":{"domain":[1998.6,2015.6],"nice":false,"zero":false},"axis":null},"y":{"field":"value","type":"quantitative","title":null,"scale":{"domain":[-114.67,117.07],"nice":false,"zero":false},"axis":null},"strokeDash":{"field":"key","type":"nominal"}}}
],"resolve":{"scale":{"y":"independent"}}},
{"width":143,"height":95,"title":"France","transform":[{"filter":"datum.c == 'France'"}],"layer":[{"layer":[
 {"transform":[{"filter":"datum.t == 1999.2"}],"mark":{"type":"rule","color":"#8a8a8a","strokeWidth":1.2},"encoding":{"y":{"datum":0,"type":"quantitative","title":null,"scale":{"domain":[-2.2,32.56],"nice":false,"zero":false},"axis":null}}},
 {"transform":[{"filter":"datum.t == 1999.2"}],"mark":{"type":"rule","color":"#555","strokeWidth":1,"strokeDash":[8,4]},"encoding":{"x":{"datum":2008.67,"type":"quantitative","title":null,"scale":{"domain":[1998.6,2015.6],"nice":false,"zero":false},"axis":null}}},
 {"transform":[{"fold":["u"],"as":["key","value"]}],"mark":{"type":"line","color":"black","strokeWidth":1},"encoding":{"x":{"field":"t","type":"quantitative","title":null,"scale":{"domain":[1998.6,2015.6],"nice":false,"zero":false},"axis":null},"y":{"field":"value","type":"quantitative","title":null,"scale":{"domain":[-2.2,32.56],"nice":false,"zero":false},"axis":null},"strokeDash":{"field":"key","type":"nominal"}}}]},
 {"transform":[{"fold":["ec","ep","ecb"],"as":["key","value"]}],"mark":{"type":"line","color":"black","strokeWidth":1},"encoding":{"x":{"field":"t","type":"quantitative","title":null,"scale":{"domain":[1998.6,2015.6],"nice":false,"zero":false},"axis":null},"y":{"field":"value","type":"quantitative","title":null,"scale":{"domain":[-114.67,117.07],"nice":false,"zero":false},"axis":{"orient":"right","values":[-100,-50,0,50,100],"format":"d"}},"strokeDash":{"field":"key","type":"nominal"}}}
],"resolve":{"scale":{"y":"independent"}}}
]},
{"spacing": 12, "bounds": "flush", "hconcat": [
{"width":143,"height":95,"title":"Germany","transform":[{"filter":"datum.c == 'Germany'"}],"layer":[{"layer":[
 {"transform":[{"filter":"datum.t == 1999.2"}],"mark":{"type":"rule","color":"#8a8a8a","strokeWidth":1.2},"encoding":{"y":{"datum":0,"type":"quantitative","title":null,"scale":{"domain":[-2.2,32.56],"nice":false,"zero":false},"axis":{"orient":"left","values":[0,10,20,30],"format":"d"}}}},
 {"transform":[{"filter":"datum.t == 1999.2"}],"mark":{"type":"rule","color":"#555","strokeWidth":1,"strokeDash":[8,4]},"encoding":{"x":{"datum":2008.67,"type":"quantitative","title":null,"scale":{"domain":[1998.6,2015.6],"nice":false,"zero":false},"axis":null}}},
 {"transform":[{"fold":["u"],"as":["key","value"]}],"mark":{"type":"line","color":"black","strokeWidth":1},"encoding":{"x":{"field":"t","type":"quantitative","title":null,"scale":{"domain":[1998.6,2015.6],"nice":false,"zero":false},"axis":null},"y":{"field":"value","type":"quantitative","title":null,"scale":{"domain":[-2.2,32.56],"nice":false,"zero":false},"axis":{"orient":"left","values":[0,10,20,30],"format":"d"}},"strokeDash":{"field":"key","type":"nominal"}}}]},
 {"transform":[{"fold":["ec","ep","ecb"],"as":["key","value"]}],"mark":{"type":"line","color":"black","strokeWidth":1},"encoding":{"x":{"field":"t","type":"quantitative","title":null,"scale":{"domain":[1998.6,2015.6],"nice":false,"zero":false},"axis":null},"y":{"field":"value","type":"quantitative","title":null,"scale":{"domain":[-114.67,117.07],"nice":false,"zero":false},"axis":null},"strokeDash":{"field":"key","type":"nominal"}}}
],"resolve":{"scale":{"y":"independent"}}},
{"width":143,"height":95,"title":"Greece","transform":[{"filter":"datum.c == 'Greece'"}],"layer":[{"layer":[
 {"transform":[{"filter":"datum.t == 1999.2"}],"mark":{"type":"rule","color":"#8a8a8a","strokeWidth":1.2},"encoding":{"y":{"datum":0,"type":"quantitative","title":null,"scale":{"domain":[-2.2,32.56],"nice":false,"zero":false},"axis":null}}},
 {"transform":[{"filter":"datum.t == 1999.2"}],"mark":{"type":"rule","color":"#555","strokeWidth":1,"strokeDash":[8,4]},"encoding":{"x":{"datum":2008.67,"type":"quantitative","title":null,"scale":{"domain":[1998.6,2015.6],"nice":false,"zero":false},"axis":null}}},
 {"transform":[{"fold":["u"],"as":["key","value"]}],"mark":{"type":"line","color":"black","strokeWidth":1},"encoding":{"x":{"field":"t","type":"quantitative","title":null,"scale":{"domain":[1998.6,2015.6],"nice":false,"zero":false},"axis":null},"y":{"field":"value","type":"quantitative","title":null,"scale":{"domain":[-2.2,32.56],"nice":false,"zero":false},"axis":null},"strokeDash":{"field":"key","type":"nominal"}}}]},
 {"transform":[{"fold":["ec","ep","ecb"],"as":["key","value"]}],"mark":{"type":"line","color":"black","strokeWidth":1},"encoding":{"x":{"field":"t","type":"quantitative","title":null,"scale":{"domain":[1998.6,2015.6],"nice":false,"zero":false},"axis":null},"y":{"field":"value","type":"quantitative","title":null,"scale":{"domain":[-114.67,117.07],"nice":false,"zero":false},"axis":null},"strokeDash":{"field":"key","type":"nominal"}}}
],"resolve":{"scale":{"y":"independent"}}},
{"width":143,"height":95,"title":"Ireland","transform":[{"filter":"datum.c == 'Ireland'"}],"layer":[{"layer":[
 {"transform":[{"filter":"datum.t == 1999.2"}],"mark":{"type":"rule","color":"#8a8a8a","strokeWidth":1.2},"encoding":{"y":{"datum":0,"type":"quantitative","title":null,"scale":{"domain":[-2.2,32.56],"nice":false,"zero":false},"axis":null}}},
 {"transform":[{"filter":"datum.t == 1999.2"}],"mark":{"type":"rule","color":"#555","strokeWidth":1,"strokeDash":[8,4]},"encoding":{"x":{"datum":2008.67,"type":"quantitative","title":null,"scale":{"domain":[1998.6,2015.6],"nice":false,"zero":false},"axis":null}}},
 {"transform":[{"fold":["u"],"as":["key","value"]}],"mark":{"type":"line","color":"black","strokeWidth":1},"encoding":{"x":{"field":"t","type":"quantitative","title":null,"scale":{"domain":[1998.6,2015.6],"nice":false,"zero":false},"axis":null},"y":{"field":"value","type":"quantitative","title":null,"scale":{"domain":[-2.2,32.56],"nice":false,"zero":false},"axis":null},"strokeDash":{"field":"key","type":"nominal"}}}]},
 {"transform":[{"fold":["ec","ep","ecb"],"as":["key","value"]}],"mark":{"type":"line","color":"black","strokeWidth":1},"encoding":{"x":{"field":"t","type":"quantitative","title":null,"scale":{"domain":[1998.6,2015.6],"nice":false,"zero":false},"axis":null},"y":{"field":"value","type":"quantitative","title":null,"scale":{"domain":[-114.67,117.07],"nice":false,"zero":false},"axis":null},"strokeDash":{"field":"key","type":"nominal"}}}
],"resolve":{"scale":{"y":"independent"}}},
{"width":143,"height":95,"title":"Italy","transform":[{"filter":"datum.c == 'Italy'"}],"layer":[{"layer":[
 {"transform":[{"filter":"datum.t == 1999.2"}],"mark":{"type":"rule","color":"#8a8a8a","strokeWidth":1.2},"encoding":{"y":{"datum":0,"type":"quantitative","title":null,"scale":{"domain":[-2.2,32.56],"nice":false,"zero":false},"axis":null}}},
 {"transform":[{"filter":"datum.t == 1999.2"}],"mark":{"type":"rule","color":"#555","strokeWidth":1,"strokeDash":[8,4]},"encoding":{"x":{"datum":2008.67,"type":"quantitative","title":null,"scale":{"domain":[1998.6,2015.6],"nice":false,"zero":false},"axis":null}}},
 {"transform":[{"fold":["u"],"as":["key","value"]}],"mark":{"type":"line","color":"black","strokeWidth":1},"encoding":{"x":{"field":"t","type":"quantitative","title":null,"scale":{"domain":[1998.6,2015.6],"nice":false,"zero":false},"axis":null},"y":{"field":"value","type":"quantitative","title":null,"scale":{"domain":[-2.2,32.56],"nice":false,"zero":false},"axis":null},"strokeDash":{"field":"key","type":"nominal"}}}]},
 {"transform":[{"fold":["ec","ep","ecb"],"as":["key","value"]}],"mark":{"type":"line","color":"black","strokeWidth":1},"encoding":{"x":{"field":"t","type":"quantitative","title":null,"scale":{"domain":[1998.6,2015.6],"nice":false,"zero":false},"axis":null},"y":{"field":"value","type":"quantitative","title":null,"scale":{"domain":[-114.67,117.07],"nice":false,"zero":false},"axis":{"orient":"right","values":[-100,-50,0,50,100],"format":"d"}},"strokeDash":{"field":"key","type":"nominal"}}}
],"resolve":{"scale":{"y":"independent"}}}
]},
{"spacing": 12, "bounds": "flush", "title": {"text": "Year", "orient": "bottom", "anchor": "middle", "fontSize": 17.5, "fontWeight": "normal", "font": "Liberation Sans", "color": "black", "offset": 12}, "hconcat": [
{"width":143,"height":95,"title":"Luxembourg","transform":[{"filter":"datum.c == 'Luxembourg'"}],"layer":[{"layer":[
 {"transform":[{"filter":"datum.t == 1999.2"}],"mark":{"type":"rule","color":"#8a8a8a","strokeWidth":1.2},"encoding":{"y":{"datum":0,"type":"quantitative","title":null,"scale":{"domain":[-2.2,32.56],"nice":false,"zero":false},"axis":{"orient":"left","values":[0,10,20,30],"format":"d"}}}},
 {"transform":[{"filter":"datum.t == 1999.2"}],"mark":{"type":"rule","color":"#555","strokeWidth":1,"strokeDash":[8,4]},"encoding":{"x":{"datum":2008.67,"type":"quantitative","title":null,"scale":{"domain":[1998.6,2015.6],"nice":false,"zero":false},"axis":{"values":[2000,2005,2010,2015],"format":"d","labelFlush":false}}}},
 {"transform":[{"fold":["u"],"as":["key","value"]}],"mark":{"type":"line","color":"black","strokeWidth":1},"encoding":{"x":{"field":"t","type":"quantitative","title":null,"scale":{"domain":[1998.6,2015.6],"nice":false,"zero":false},"axis":{"values":[2000,2005,2010,2015],"format":"d","labelFlush":false}},"y":{"field":"value","type":"quantitative","title":null,"scale":{"domain":[-2.2,32.56],"nice":false,"zero":false},"axis":{"orient":"left","values":[0,10,20,30],"format":"d"}},"strokeDash":{"field":"key","type":"nominal"}}}]},
 {"transform":[{"fold":["ec","ep","ecb"],"as":["key","value"]}],"mark":{"type":"line","color":"black","strokeWidth":1},"encoding":{"x":{"field":"t","type":"quantitative","title":null,"scale":{"domain":[1998.6,2015.6],"nice":false,"zero":false},"axis":{"values":[2000,2005,2010,2015],"format":"d","labelFlush":false}},"y":{"field":"value","type":"quantitative","title":null,"scale":{"domain":[-114.67,117.07],"nice":false,"zero":false},"axis":null},"strokeDash":{"field":"key","type":"nominal"}}}
],"resolve":{"scale":{"y":"independent"}}},
{"width":143,"height":95,"title":"Netherlands","transform":[{"filter":"datum.c == 'Netherlands'"}],"layer":[{"layer":[
 {"transform":[{"filter":"datum.t == 1999.2"}],"mark":{"type":"rule","color":"#8a8a8a","strokeWidth":1.2},"encoding":{"y":{"datum":0,"type":"quantitative","title":null,"scale":{"domain":[-2.2,32.56],"nice":false,"zero":false},"axis":null}}},
 {"transform":[{"filter":"datum.t == 1999.2"}],"mark":{"type":"rule","color":"#555","strokeWidth":1,"strokeDash":[8,4]},"encoding":{"x":{"datum":2008.67,"type":"quantitative","title":null,"scale":{"domain":[1998.6,2015.6],"nice":false,"zero":false},"axis":{"values":[2000,2005,2010,2015],"format":"d","labelFlush":false}}}},
 {"transform":[{"fold":["u"],"as":["key","value"]}],"mark":{"type":"line","color":"black","strokeWidth":1},"encoding":{"x":{"field":"t","type":"quantitative","title":null,"scale":{"domain":[1998.6,2015.6],"nice":false,"zero":false},"axis":{"values":[2000,2005,2010,2015],"format":"d","labelFlush":false}},"y":{"field":"value","type":"quantitative","title":null,"scale":{"domain":[-2.2,32.56],"nice":false,"zero":false},"axis":null},"strokeDash":{"field":"key","type":"nominal"}}}]},
 {"transform":[{"fold":["ec","ep","ecb"],"as":["key","value"]}],"mark":{"type":"line","color":"black","strokeWidth":1},"encoding":{"x":{"field":"t","type":"quantitative","title":null,"scale":{"domain":[1998.6,2015.6],"nice":false,"zero":false},"axis":{"values":[2000,2005,2010,2015],"format":"d","labelFlush":false}},"y":{"field":"value","type":"quantitative","title":null,"scale":{"domain":[-114.67,117.07],"nice":false,"zero":false},"axis":null},"strokeDash":{"field":"key","type":"nominal"}}}
],"resolve":{"scale":{"y":"independent"}}},
{"width":143,"height":95,"title":"Portugal","transform":[{"filter":"datum.c == 'Portugal'"}],"layer":[{"layer":[
 {"transform":[{"filter":"datum.t == 1999.2"}],"mark":{"type":"rule","color":"#8a8a8a","strokeWidth":1.2},"encoding":{"y":{"datum":0,"type":"quantitative","title":null,"scale":{"domain":[-2.2,32.56],"nice":false,"zero":false},"axis":null}}},
 {"transform":[{"filter":"datum.t == 1999.2"}],"mark":{"type":"rule","color":"#555","strokeWidth":1,"strokeDash":[8,4]},"encoding":{"x":{"datum":2008.67,"type":"quantitative","title":null,"scale":{"domain":[1998.6,2015.6],"nice":false,"zero":false},"axis":{"values":[2000,2005,2010,2015],"format":"d","labelFlush":false}}}},
 {"transform":[{"fold":["u"],"as":["key","value"]}],"mark":{"type":"line","color":"black","strokeWidth":1},"encoding":{"x":{"field":"t","type":"quantitative","title":null,"scale":{"domain":[1998.6,2015.6],"nice":false,"zero":false},"axis":{"values":[2000,2005,2010,2015],"format":"d","labelFlush":false}},"y":{"field":"value","type":"quantitative","title":null,"scale":{"domain":[-2.2,32.56],"nice":false,"zero":false},"axis":null},"strokeDash":{"field":"key","type":"nominal"}}}]},
 {"transform":[{"fold":["ec","ep","ecb"],"as":["key","value"]}],"mark":{"type":"line","color":"black","strokeWidth":1},"encoding":{"x":{"field":"t","type":"quantitative","title":null,"scale":{"domain":[1998.6,2015.6],"nice":false,"zero":false},"axis":{"values":[2000,2005,2010,2015],"format":"d","labelFlush":false}},"y":{"field":"value","type":"quantitative","title":null,"scale":{"domain":[-114.67,117.07],"nice":false,"zero":false},"axis":null},"strokeDash":{"field":"key","type":"nominal"}}}
],"resolve":{"scale":{"y":"independent"}}},
{"width":143,"height":95,"title":"Spain","transform":[{"filter":"datum.c == 'Spain'"}],"layer":[{"layer":[
 {"transform":[{"filter":"datum.t == 1999.2"}],"mark":{"type":"rule","color":"#8a8a8a","strokeWidth":1.2},"encoding":{"y":{"datum":0,"type":"quantitative","title":null,"scale":{"domain":[-2.2,32.56],"nice":false,"zero":false},"axis":null}}},
 {"transform":[{"filter":"datum.t == 1999.2"}],"mark":{"type":"rule","color":"#555","strokeWidth":1,"strokeDash":[8,4]},"encoding":{"x":{"datum":2008.67,"type":"quantitative","title":null,"scale":{"domain":[1998.6,2015.6],"nice":false,"zero":false},"axis":{"values":[2000,2005,2010,2015],"format":"d","labelFlush":false}}}},
 {"transform":[{"fold":["u"],"as":["key","value"]}],"mark":{"type":"line","color":"black","strokeWidth":1},"encoding":{"x":{"field":"t","type":"quantitative","title":null,"scale":{"domain":[1998.6,2015.6],"nice":false,"zero":false},"axis":{"values":[2000,2005,2010,2015],"format":"d","labelFlush":false}},"y":{"field":"value","type":"quantitative","title":null,"scale":{"domain":[-2.2,32.56],"nice":false,"zero":false},"axis":null},"strokeDash":{"field":"key","type":"nominal"}}}]},
 {"transform":[{"fold":["ec","ep","ecb"],"as":["key","value"]}],"mark":{"type":"line","color":"black","strokeWidth":1},"encoding":{"x":{"field":"t","type":"quantitative","title":null,"scale":{"domain":[1998.6,2015.6],"nice":false,"zero":false},"axis":{"values":[2000,2005,2010,2015],"format":"d","labelFlush":false}},"y":{"field":"value","type":"quantitative","title":null,"scale":{"domain":[-114.67,117.07],"nice":false,"zero":false},"axis":{"orient":"right","values":[-100,-50,0,50,100],"format":"d"}},"strokeDash":{"field":"key","type":"nominal"}}}
],"resolve":{"scale":{"y":"independent"}}}
]}
],
"config": {
  "view": {"stroke": null},
  "title": {"fontSize": 11, "fontWeight": "normal", "font": "Liberation Sans", "color": "#111", "offset": 3, "anchor": "middle"},
  "axis": {"grid": false, "domainColor": "black", "tickColor": "black", "labelColor": "black", "labelFont": "Liberation Sans", "labelFontSize": 10, "tickSize": 4, "labelPadding": 2, "domainWidth": 1, "tickWidth": 1},
  "legend": {"orient": "none", "legendX": 35, "legendY": 398, "direction": "horizontal", "title": null, "symbolType": "stroke", "symbolSize": 1400, "symbolStrokeColor": "black", "symbolStrokeWidth": 1.2, "labelFont": "Liberation Sans", "labelFontSize": 13.4, "labelColor": "black", "columnPadding": 28, "labelOffset": 10}
}
}
